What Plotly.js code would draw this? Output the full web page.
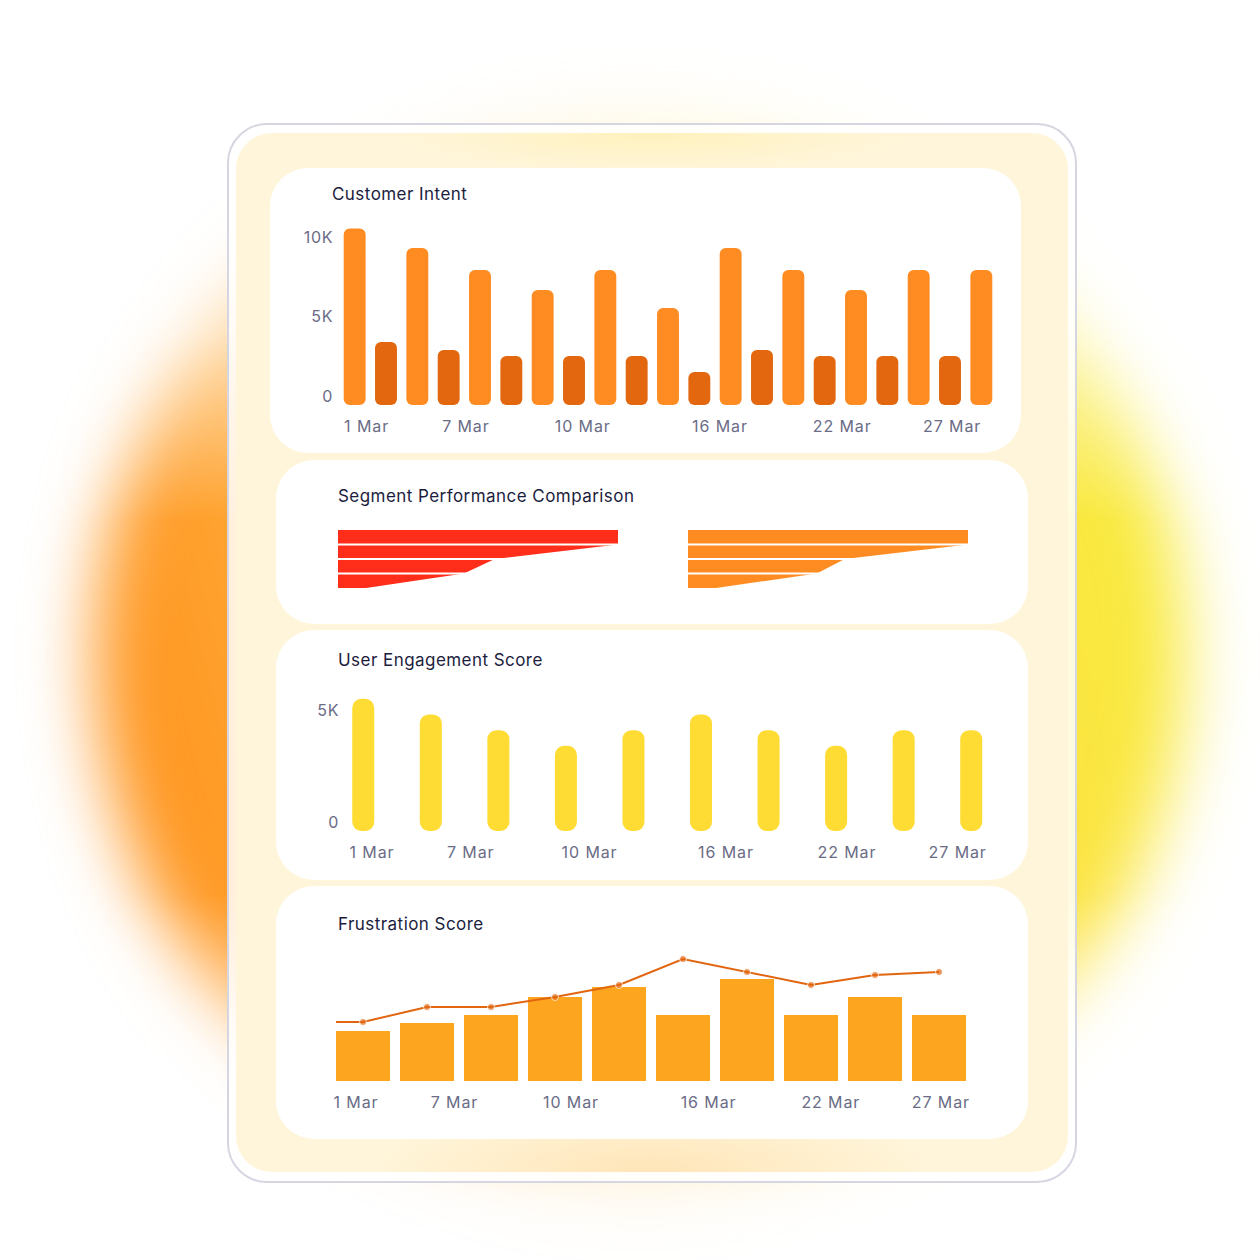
<!DOCTYPE html>
<html>
<head>
<meta charset="utf-8">
<script src="https://cdn.plot.ly/plotly-3.0.1.min.js"></script>
<style>
html,body{margin:0;padding:0;background:#ffffff;}
body{width:1260px;height:1260px;position:relative;overflow:hidden;}
#glowWrap{position:absolute;left:0;top:0;width:1260px;height:1260px;
  -webkit-mask-image:linear-gradient(to bottom, rgba(0,0,0,0.1) 0px, rgba(0,0,0,0.14) 110px, rgba(0,0,0,0.42) 330px, #000 520px, #000 895px, rgba(0,0,0,0.45) 1070px, rgba(0,0,0,0.14) 1200px, rgba(0,0,0,0.1) 1260px);
  mask-image:linear-gradient(to bottom, rgba(0,0,0,0.1) 0px, rgba(0,0,0,0.14) 110px, rgba(0,0,0,0.42) 330px, #000 520px, #000 895px, rgba(0,0,0,0.45) 1070px, rgba(0,0,0,0.14) 1200px, rgba(0,0,0,0.1) 1260px);}
#glow{position:absolute;left:95px;top:110px;width:1090px;height:1090px;border-radius:50%;
  background:linear-gradient(75deg,#ff8a10 0%,#ff9f2c 20%,#ffc650 46%,#fde043 70%,#f6f03a 100%);
  filter:blur(34px);}
#frame{position:absolute;left:227px;top:123px;width:850px;height:1060px;box-sizing:border-box;
  border:2px solid #d6d6e2;border-radius:40px;background:rgba(255,255,255,0.84);}
#cream{position:absolute;left:236px;top:133px;width:832px;height:1039px;border-radius:36px;
  background:
    radial-gradient(ellipse 280px 70px at 50% 100%, rgba(255,220,165,0.65), rgba(255,220,165,0)),
    radial-gradient(ellipse 260px 40px at 50% 0%, rgba(255,238,160,0.5), rgba(255,238,160,0)),
    #fff5da;}
.panel{position:absolute;background:#ffffff;border-radius:38px;overflow:hidden;}
.gtitle{letter-spacing:0.45px;}
.xtick text{letter-spacing:0.9px;}
.ytick text{letter-spacing:0.6px;}
</style>
</head>
<body>
<div id="glowWrap"><div id="glow"></div></div>
<div id="frame"></div>
<div id="cream"></div>
<div class="panel" id="p1" style="left:270px;top:168px;width:751px;height:285px;"></div>
<div class="panel" id="p2" style="left:276px;top:460px;width:752px;height:164px;"></div>
<div class="panel" id="p3" style="left:276px;top:630px;width:752px;height:250px;"></div>
<div class="panel" id="p4" style="left:276px;top:886px;width:752px;height:253px;"></div>
<script>
// ---------------- DATA ----------------
const dateLabels = ['1 Mar', '7 Mar', '10 Mar', '16 Mar', '22 Mar', '27 Mar'];

// Customer Intent (21 bars, alternating segments)
const intentValues = [10730, 3580, 9500, 3080, 8110, 2700, 6860, 2700, 8110, 2700, 5720,
                      1700, 9500, 3080, 8110, 2700, 6860, 2700, 8110, 2700, 8110];
const intentTickPos = [0.38, 3.55, 7.28, 11.66, 15.56, 19.07];
const intentYTicks = [0, 5000, 10000];
const intentYLabels = ['0', '5K', '10K'];

// Segment Performance Comparison (stage boundaries, % of first stage)
const segmentStages = [0, 1, 2, 3, 4];
const segmentA = [100, 100, 56, 45, 10];
const segmentB = [100, 100, 56, 46, 10];

// User Engagement Score
const engagementValues = [5500, 4800, 4100, 3400, 4100, 4800, 4100, 3400, 4100, 4100];
const engagementTickPos = [0.13, 1.59, 3.35, 5.37, 7.16, 8.80];
const engagementYTicks = [0, 5000];
const engagementYLabels = ['0', '5K'];

// Frustration Score
const frustrationBars = [50, 58, 66, 84, 94, 66, 102, 66, 84, 66];
const frustrationLine = [59, 74, 74, 84, 96, 122, 109, 96, 106, 109];
const frustrationTickPos = [-0.11, 1.43, 3.25, 5.40, 7.31, 9.03];

// ---------------- STYLE ----------------
const FONT = 'Inter, "Noto Sans", sans-serif';
const TICK_COLOR = '#6a6c86';
const TITLE_COLOR = '#1c1d3d';
const cfg = {staticPlot: true, displayModeBar: false};

function titleObj(text, w, h, x, y) {
  return {text: text, xref: 'container', yref: 'container', x: x / w, y: 1 - y / h,
          xanchor: 'left', yanchor: 'middle', font: {family: FONT, size: 17, color: TITLE_COLOR}};
}
function baseLayout(w, h) {
  return {width: w, height: h, paper_bgcolor: 'rgba(0,0,0,0)', plot_bgcolor: 'rgba(0,0,0,0)',
          showlegend: false, font: {family: FONT, size: 16, color: TICK_COLOR}};
}
function xAxisDates(range, pos) {
  return {range: range, tickmode: 'array', tickvals: pos, ticktext: dateLabels,
          showgrid: false, zeroline: false, showline: false, ticks: '',
          ticklabelstandoff: 10, tickfont: {family: FONT, size: 16, color: TICK_COLOR}, fixedrange: true};
}
const idx = n => Array.from({length: n}, (_, i) => i);

// ---------------- CHART 1: Customer Intent ----------------
(function () {
  const w = 751, h = 285;
  const yRange = [-380, 11260];
  const x = idx(intentValues.length);
  const colors = x.map(i => (i % 2 === 0 ? '#ff8c22' : '#e2670f'));
  const main = {type: 'bar', x: x, y: intentValues, marker: {color: colors, cornerradius: 6}, hoverinfo: 'skip'};
  const cap = {type: 'bar', x: x, y: x.map(() => yRange[0]), marker: {color: colors, cornerradius: 6}, hoverinfo: 'skip'};
  const layout = Object.assign(baseLayout(w, h), {
    title: titleObj('Customer Intent', w, h, 62, 26),
    margin: {l: 69, r: 24, t: 52, b: 48},
    barmode: 'overlay', bargap: 0.3,
    xaxis: xAxisDates([-0.5, intentValues.length - 0.5], intentTickPos),
    yaxis: {range: yRange, tickmode: 'array', tickvals: intentYTicks, ticktext: intentYLabels,
            showgrid: false, zeroline: false, showline: false, ticks: '', ticklabelstandoff: 5,
            ticklabelshift: -3, tickfont: {family: FONT, size: 16, color: TICK_COLOR}}
  });
  Plotly.newPlot('p1', [cap, main], layout, cfg);
})();

// ---------------- CHART 2: Segment Performance Comparison ----------------
(function () {
  const w = 752, h = 164;
  const mk = (vals, xa, color) => ({type: 'scatter', mode: 'lines', x: vals, y: segmentStages,
    xaxis: xa, yaxis: 'y', fill: 'tozerox', fillcolor: color, line: {width: 0, color: color}, hoverinfo: 'skip'});
  const hidden = {showgrid: false, zeroline: false, showline: false, showticklabels: false, ticks: ''};
  const seps = [];
  ['x', 'x2'].forEach(xa => {
    segmentStages.slice(1, -1).forEach(s => {
      seps.push({type: 'line', xref: xa + ' domain', yref: 'y', x0: 0, x1: 1, y0: s, y1: s,
                 line: {color: '#ffffff', width: 2}, layer: 'above'});
    });
  });
  const layout = Object.assign(baseLayout(w, h), {
    title: titleObj('Segment Performance Comparison', w, h, 62, 36),
    margin: {l: 0, r: 0, t: 70, b: 36},
    xaxis: Object.assign({domain: [62 / w, 342 / w], range: [0, 100]}, hidden),
    xaxis2: Object.assign({domain: [412 / w, 692 / w], range: [0, 100], anchor: 'y'}, hidden),
    yaxis: Object.assign({range: [segmentStages[segmentStages.length - 1], segmentStages[0]]}, hidden),
    shapes: seps
  });
  Plotly.newPlot('p2', [mk(segmentA, 'x', '#ff2e1b'), mk(segmentB, 'x2', '#ff8c22')], layout, cfg);
})();

// ---------------- CHART 3: User Engagement Score ----------------
(function () {
  const w = 752, h = 250;
  const yRange = [-402, 5893];
  const x = idx(engagementValues.length);
  const col = '#ffdc33';
  const main = {type: 'bar', x: x, y: engagementValues, marker: {color: col, cornerradius: 9}, hoverinfo: 'skip'};
  const cap = {type: 'bar', x: x, y: x.map(() => yRange[0]), marker: {color: col, cornerradius: 9}, hoverinfo: 'skip'};
  const layout = Object.assign(baseLayout(w, h), {
    title: titleObj('User Engagement Score', w, h, 62, 30),
    margin: {l: 67, r: 23, t: 60, b: 49},
    barmode: 'overlay', bargap: 0.674,
    xaxis: xAxisDates([-0.3, engagementValues.length - 0.5], engagementTickPos),
    yaxis: {range: yRange, tickmode: 'array', tickvals: engagementYTicks, ticktext: engagementYLabels,
            showgrid: false, zeroline: false, showline: false, ticks: '', ticklabelstandoff: 3,
            tickfont: {family: FONT, size: 16, color: TICK_COLOR}}
  });
  Plotly.newPlot('p3', [cap, main], layout, cfg);
})();

// ---------------- CHART 4: Frustration Score ----------------
(function () {
  const w = 752, h = 253;
  const gap = 0.156;
  const x = idx(frustrationBars.length);
  const bars = {type: 'bar', x: x, y: frustrationBars, marker: {color: '#fea520'}, hoverinfo: 'skip'};
  const edge = -(1 - gap) / 2;
  const line = {type: 'scatter', mode: 'lines+markers', x: [edge].concat(x),
    y: [frustrationLine[0]].concat(frustrationLine),
    line: {color: '#e2660f', width: 2},
    marker: {color: '#e2660f', size: [0].concat(x.map(() => 7))}, hoverinfo: 'skip'};
  const layout = Object.assign(baseLayout(w, h), {
    title: titleObj('Frustration Score', w, h, 62, 38),
    margin: {l: 55, r: 57, t: 55, b: 58},
    bargap: gap,
    xaxis: xAxisDates([-0.5, frustrationBars.length - 0.5], frustrationTickPos),
    yaxis: {range: [0, 140], showgrid: false, zeroline: false, showline: false, showticklabels: false, ticks: ''}
  });
  Plotly.newPlot('p4', [bars, line], layout, cfg);
})();
</script>
</body>
</html>
